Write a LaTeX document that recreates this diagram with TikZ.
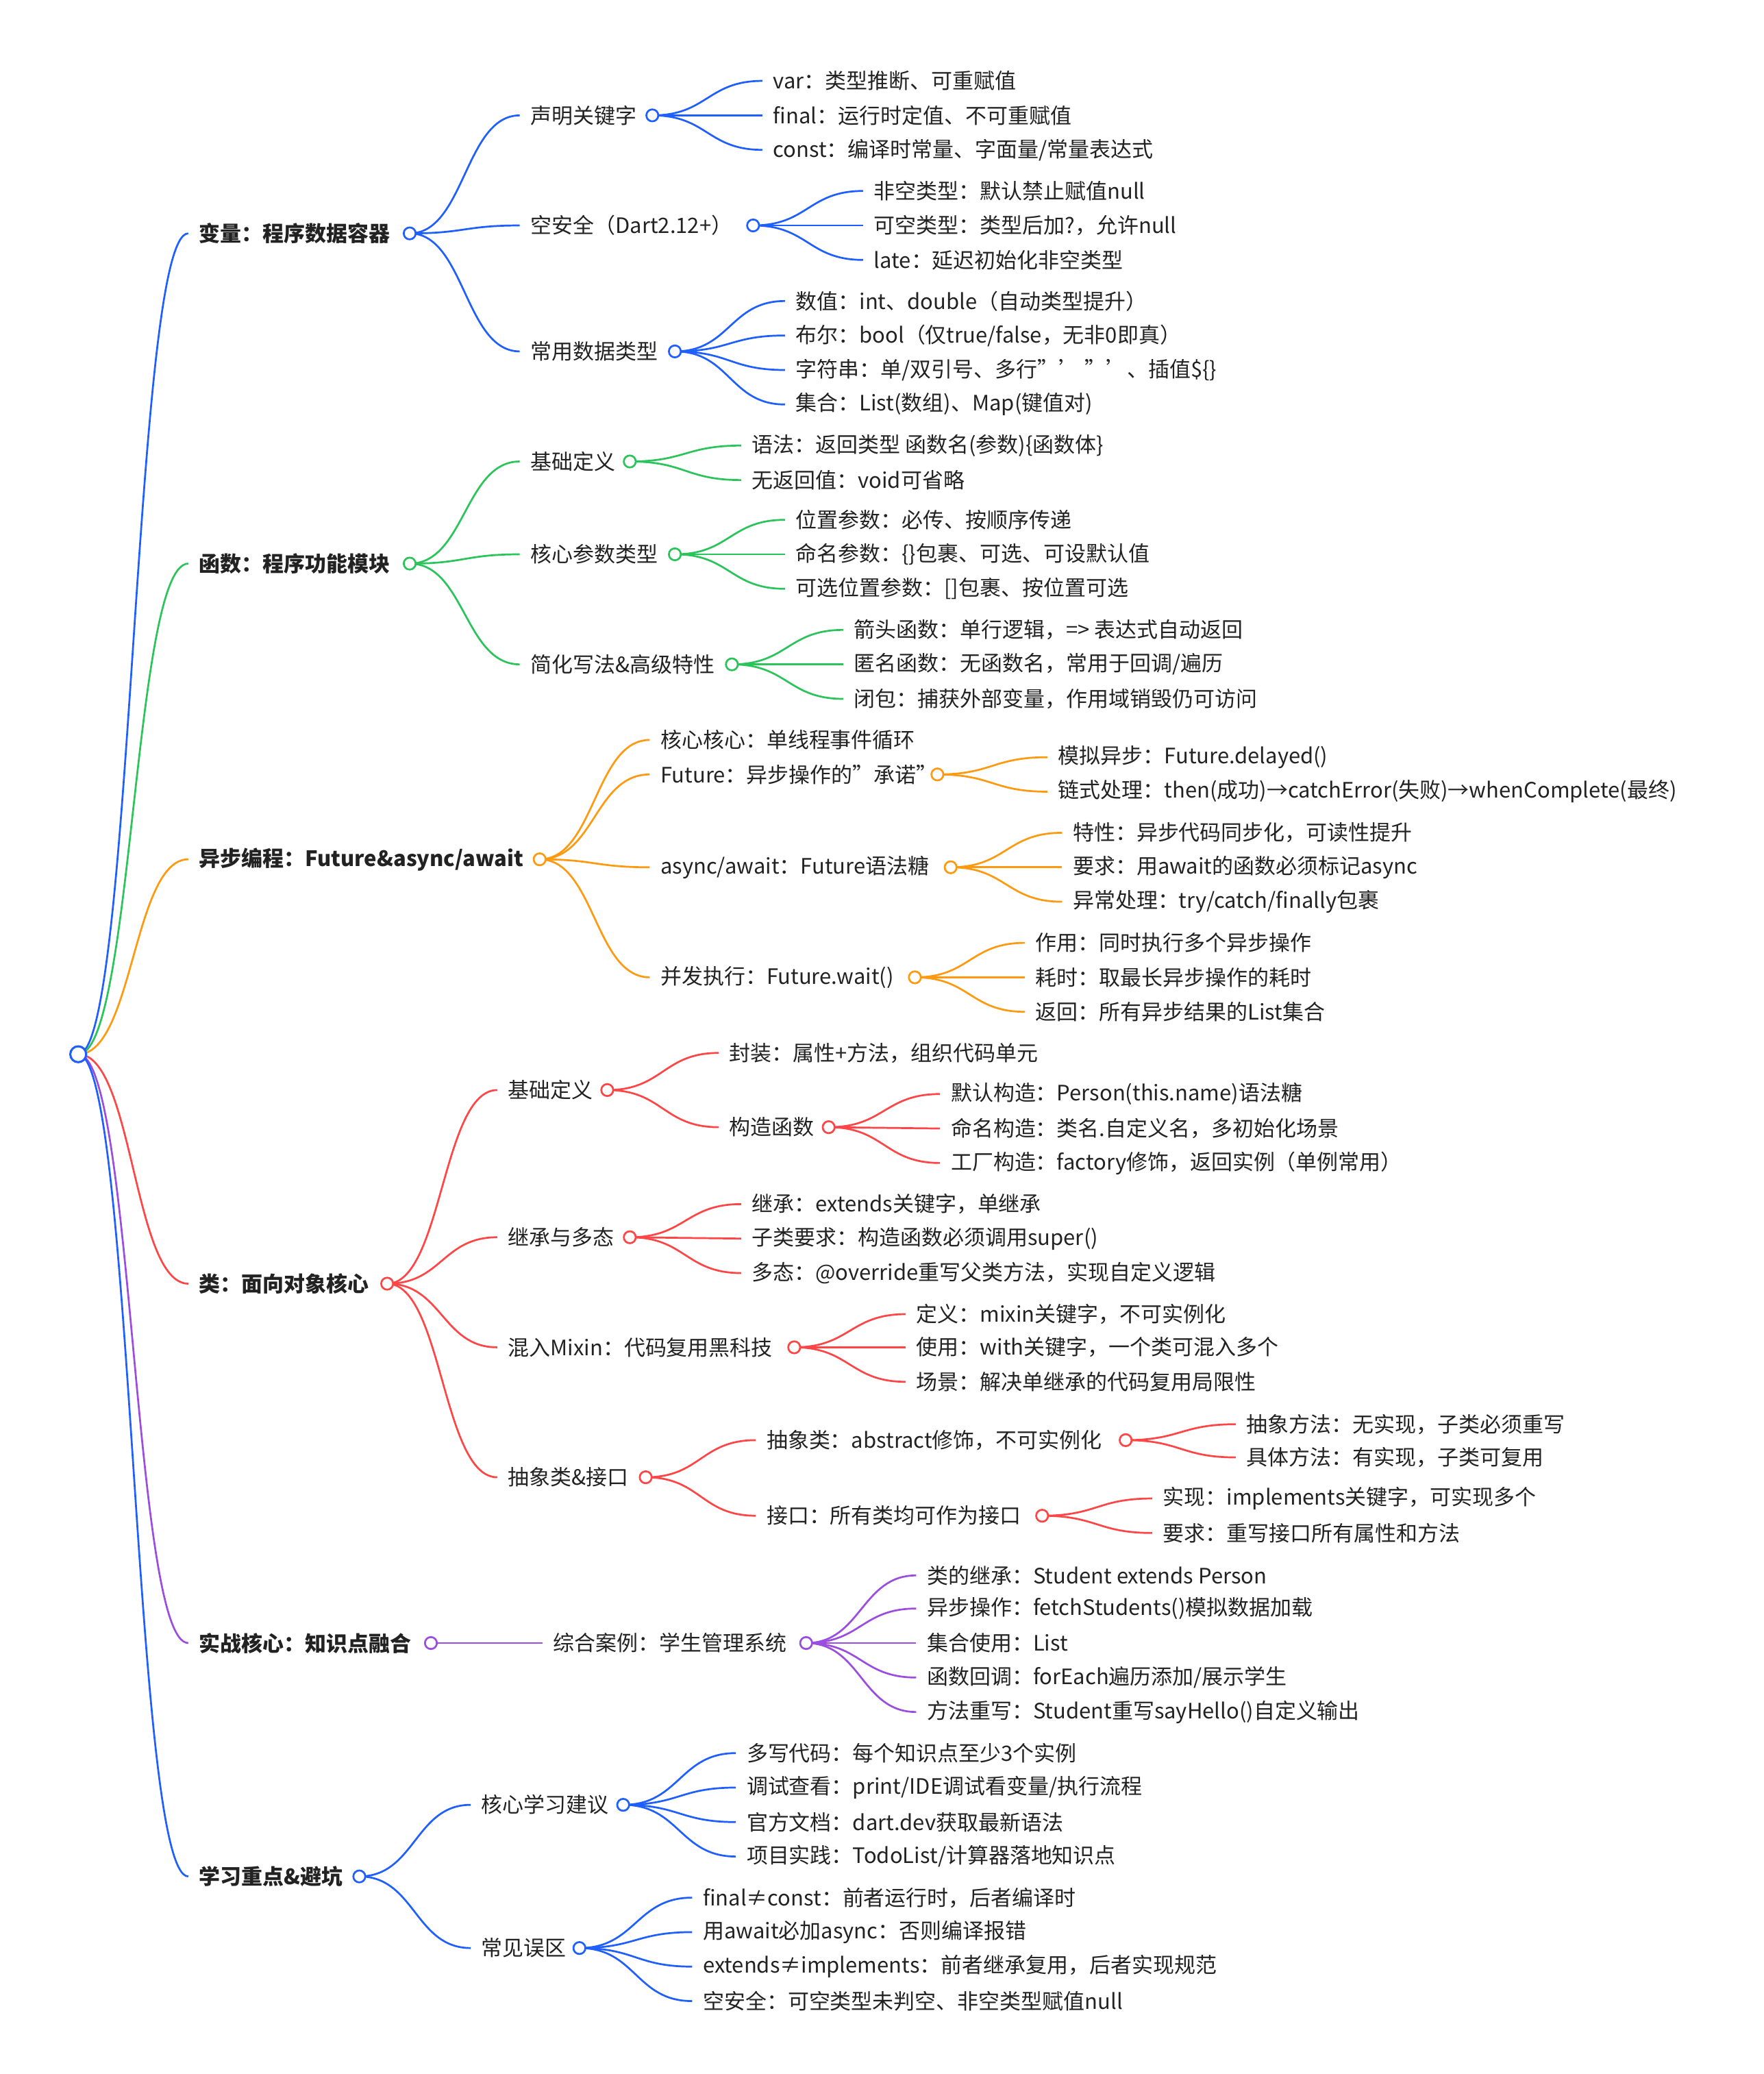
\documentclass[tikz,border=0pt]{standalone}
\usepackage{fontspec}
\setmainfont{Noto Sans CJK SC}
\usetikzlibrary{calc}
\pgfdeclarelayer{bg}\pgfsetlayers{bg,main}
\definecolor{cb}{HTML}{1F5EFF}
\definecolor{cg}{HTML}{2BC45A}
\definecolor{co}{HTML}{FF9A10}
\definecolor{cr}{HTML}{FF4545}
\definecolor{cp}{HTML}{9B4DE0}
\definecolor{tx}{HTML}{222222}
\tikzset{txt/.style={anchor=west,inner sep=0pt,text=tx,font=\fontsize{16}{18}\selectfont},
 l1/.style={txt,font=\fontsize{16}{18}\selectfont\bfseries},
 dot/.style={circle,draw=#1,fill=white,line width=1.4pt,minimum size=9pt,inner sep=0pt},
 lk/.style={draw=#1,line width=1.4pt}}
\newcommand\T[5][txt]{\node[#1] (#2) at (#3,#4) {#5};}
\newcommand\D[4]{\node[dot=#4] (#1) at (#2,#3) {};}
\newcommand\Lk[3]{\begin{pgfonlayer}{bg}\draw[lk=#3] let \p1=(#1.center), \p2=($(#2.west)+(-8pt,0)$) in (\p1) .. controls ({(\x1+\x2)/2},\y1) and ({(\x1+\x2)/2},\y2) .. (\p2);\end{pgfonlayer}}
\begin{document}
\begin{tikzpicture}[x=1pt,y=-1pt]
\useasboundingbox (0,0) rectangle (1330,1564);
\node[circle,draw=cb,fill=white,line width=1.6pt,minimum size=12pt,inner sep=0pt] (root) at (59,795) {};
% level 1
\T[l1]{v}{150}{176}{变量：程序数据容器}\D{vc}{309}{176}{cb}
\T[l1]{f}{150}{425}{函数：程序功能模块}\D{fc}{309}{425}{cg}
\T[l1]{a}{150}{648}{异步编程：Future\&async/await}\D{ac}{407}{648}{co}
\T[l1]{k}{150}{968}{类：面向对象核心}\D{kc}{292}{968}{cr}
\T[l1]{s}{150}{1239}{实战核心：知识点融合}\D{sc}{325}{1239}{cp}
\T[l1]{x}{150}{1415}{学习重点\&避坑}\D{xc}{271}{1415}{cb}
\Lk{root}{v}{cb}\Lk{root}{f}{cg}\Lk{root}{a}{co}\Lk{root}{k}{cr}\Lk{root}{s}{cp}\Lk{root}{x}{cb}
% 变量
\T{v1}{400}{87}{声明关键字}\D{v1c}{492}{87}{cb}\Lk{vc}{v1}{cb}
\T{v2}{400}{170}{空安全（Dart2.12+）}\D{v2c}{568}{170}{cb}\Lk{vc}{v2}{cb}
\T{v3}{400}{265}{常用数据类型}\D{v3c}{509}{265}{cb}\Lk{vc}{v3}{cb}
\T{v11}{583}{61}{var：类型推断、可重赋值}\Lk{v1c}{v11}{cb}
\T{v12}{583}{87}{final：运行时定值、不可重赋值}\Lk{v1c}{v12}{cb}
\T{v13}{583}{113}{const：编译时常量、字面量/常量表达式}\Lk{v1c}{v13}{cb}
\T{v21}{659}{144}{非空类型：默认禁止赋值null}\Lk{v2c}{v21}{cb}
\T{v22}{659}{170}{可空类型：类型后加?，允许null}\Lk{v2c}{v22}{cb}
\T{v23}{659}{196}{late：延迟初始化非空类型}\Lk{v2c}{v23}{cb}
\T{v31}{600}{227}{数值：int、double（自动类型提升）}\Lk{v3c}{v31}{cb}
\T{v32}{600}{253}{布尔：bool（仅true/false，无非0即真）}\Lk{v3c}{v32}{cb}
\T{v33}{600}{279}{字符串：单/双引号、多行''' '''、插值\$\{\}}\Lk{v3c}{v33}{cb}
\T{v34}{600}{305}{集合：List(数组)、Map(键值对)}\Lk{v3c}{v34}{cb}
% 函数
\T{f1}{400}{348}{基础定义}\D{f1c}{475}{348}{cg}\Lk{fc}{f1}{cg}
\T{f2}{400}{418}{核心参数类型}\D{f2c}{509}{418}{cg}\Lk{fc}{f2}{cg}
\T{f3}{400}{501}{简化写法\&高级特性}\D{f3c}{552}{501}{cg}\Lk{fc}{f3}{cg}
\T{f11}{567}{336}{语法：返回类型 函数名(参数)\{函数体\}}\Lk{f1c}{f11}{cg}
\T{f12}{567}{362}{无返回值：void可省略}\Lk{f1c}{f12}{cg}
\T{f21}{600}{392}{位置参数：必传、按顺序传递}\Lk{f2c}{f21}{cg}
\T{f22}{600}{418}{命名参数：\{\}包裹、可选、可设默认值}\Lk{f2c}{f22}{cg}
\T{f23}{600}{444}{可选位置参数：[]包裹、按位置可选}\Lk{f2c}{f23}{cg}
\T{f31}{644}{475}{箭头函数：单行逻辑，=> 表达式自动返回}\Lk{f3c}{f31}{cg}
\T{f32}{644}{501}{匿名函数：无函数名，常用于回调/遍历}\Lk{f3c}{f32}{cg}
\T{f33}{644}{527}{闭包：捕获外部变量，作用域销毁仍可访问}\Lk{f3c}{f33}{cg}
% 异步
\T{a1}{498}{558}{核心核心：单线程事件循环}\Lk{ac}{a1}{co}
\T{a2}{498}{584}{Future：异步操作的"承诺"}\D{a2c}{707}{584}{co}\Lk{ac}{a2}{co}
\T{a3}{498}{654}{async/await：Future语法糖}\D{a3c}{717}{654}{co}\Lk{ac}{a3}{co}
\T{a4}{498}{737}{并发执行：Future.wait()}\D{a4c}{690}{737}{co}\Lk{ac}{a4}{co}
\T{a21}{798}{571}{模拟异步：Future.delayed()}\Lk{a2c}{a21}{co}
\T{a22}{798}{597}{链式处理：then(成功)→catchError(失败)→whenComplete(最终)}\Lk{a2c}{a22}{co}
\T{a31}{809}{628}{特性：异步代码同步化，可读性提升}\Lk{a3c}{a31}{co}
\T{a32}{809}{654}{要求：用await的函数必须标记async}\Lk{a3c}{a32}{co}
\T{a33}{809}{680}{异常处理：try/catch/finally包裹}\Lk{a3c}{a33}{co}
\T{a41}{781}{711}{作用：同时执行多个异步操作}\Lk{a4c}{a41}{co}
\T{a42}{781}{737}{耗时：取最长异步操作的耗时}\Lk{a4c}{a42}{co}
\T{a43}{781}{763}{返回：所有异步结果的List集合}\Lk{a4c}{a43}{co}
% 类
\T{k1}{383}{822}{基础定义}\D{k1c}{458}{822}{cr}\Lk{kc}{k1}{cr}
\T{k2}{383}{933}{继承与多态}\D{k2c}{475}{933}{cr}\Lk{kc}{k2}{cr}
\T{k3}{383}{1016}{混入Mixin：代码复用黑科技}\D{k3c}{599}{1016}{cr}\Lk{kc}{k3}{cr}
\T{k4}{383}{1114}{抽象类\&接口}\D{k4c}{487}{1114}{cr}\Lk{kc}{k4}{cr}
\T{k11}{550}{794}{封装：属性+方法，组织代码单元}\Lk{k1c}{k11}{cr}
\T{k12}{550}{850}{构造函数}\D{k12c}{625}{850}{cr}\Lk{k1c}{k12}{cr}
\T{k121}{717}{825}{默认构造：Person(this.name)语法糖}\Lk{k12c}{k121}{cr}
\T{k122}{717}{851}{命名构造：类名.自定义名，多初始化场景}\Lk{k12c}{k122}{cr}
\T{k123}{717}{877}{工厂构造：factory修饰，返回实例（单例常用）}\Lk{k12c}{k123}{cr}
\T{k21}{567}{908}{继承：extends关键字，单继承}\Lk{k2c}{k21}{cr}
\T{k22}{567}{934}{子类要求：构造函数必须调用super()}\Lk{k2c}{k22}{cr}
\T{k23}{567}{960}{多态：@override重写父类方法，实现自定义逻辑}\Lk{k2c}{k23}{cr}
\T{k31}{691}{991}{定义：mixin关键字，不可实例化}\Lk{k3c}{k31}{cr}
\T{k32}{691}{1016}{使用：with关键字，一个类可混入多个}\Lk{k3c}{k32}{cr}
\T{k33}{691}{1042}{场景：解决单继承的代码复用局限性}\Lk{k3c}{k33}{cr}
\T{k41}{578}{1086}{抽象类：abstract修饰，不可实例化}\D{k41c}{849}{1086}{cr}\Lk{k4c}{k41}{cr}
\T{k42}{578}{1143}{接口：所有类均可作为接口}\D{k42c}{786}{1143}{cr}\Lk{k4c}{k42}{cr}
\T{k411}{940}{1074}{抽象方法：无实现，子类必须重写}\Lk{k41c}{k411}{cr}
\T{k412}{940}{1099}{具体方法：有实现，子类可复用}\Lk{k41c}{k412}{cr}
\T{k421}{877}{1130}{实现：implements关键字，可实现多个}\Lk{k42c}{k421}{cr}
\T{k422}{877}{1156}{要求：重写接口所有属性和方法}\Lk{k42c}{k422}{cr}
% 实战
\T{s1}{417}{1239}{综合案例：学生管理系统}\D{s1c}{608}{1239}{cp}\Lk{sc}{s1}{cp}
\T{s11}{699}{1188}{类的继承：Student extends Person}\Lk{s1c}{s11}{cp}
\T{s12}{699}{1213}{异步操作：fetchStudents()模拟数据加载}\Lk{s1c}{s12}{cp}
\T{s13}{699}{1239}{集合使用：List}\Lk{s1c}{s13}{cp}
\T{s14}{699}{1265}{函数回调：forEach遍历添加/展示学生}\Lk{s1c}{s14}{cp}
\T{s15}{699}{1291}{方法重写：Student重写sayHello()自定义输出}\Lk{s1c}{s15}{cp}
% 学习
\T{x1}{363}{1361}{核心学习建议}\D{x1c}{470}{1361}{cb}\Lk{xc}{x1}{cb}
\T{x2}{363}{1469}{常见误区}\D{x2c}{437}{1469}{cb}\Lk{xc}{x2}{cb}
\T{x11}{563}{1322}{多写代码：每个知识点至少3个实例}\Lk{x1c}{x11}{cb}
\T{x12}{563}{1348}{调试查看：print/IDE调试看变量/执行流程}\Lk{x1c}{x12}{cb}
\T{x13}{563}{1374}{官方文档：dart.dev获取最新语法}\Lk{x1c}{x13}{cb}
\T{x14}{563}{1400}{项目实践：TodoList/计算器落地知识点}\Lk{x1c}{x14}{cb}
\T{x21}{530}{1431}{final≠const：前者运行时，后者编译时}\Lk{x2c}{x21}{cb}
\T{x22}{530}{1457}{用await必加async：否则编译报错}\Lk{x2c}{x22}{cb}
\T{x23}{530}{1483}{extends≠implements：前者继承复用，后者实现规范}\Lk{x2c}{x23}{cb}
\T{x24}{530}{1509}{空安全：可空类型未判空、非空类型赋值null}\Lk{x2c}{x24}{cb}
\end{tikzpicture}
\end{document}
